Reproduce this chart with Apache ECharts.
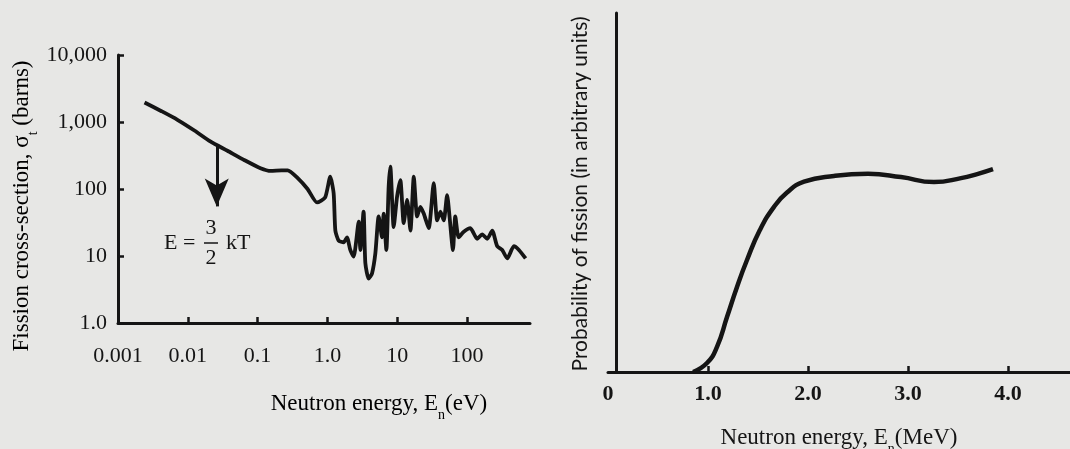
<!DOCTYPE html>
<html>
<head>
<meta charset="utf-8">
<script src="https://cdn.jsdelivr.net/npm/echarts@6/dist/echarts.min.js"></script>
<style>
html,body{margin:0;padding:0;background:#e7e7e5;}
#c{width:1070px;height:449px;}
</style>
</head>
<body>
<div id="c"></div>
<script>
// ---------- Left chart: fission cross-section vs neutron energy (log-log) ----------
const leftEnergy = [0.0024, 0.0042, 0.0072, 0.0126, 0.021, 0.037, 0.065, 0.11, 0.155, 0.22, 0.27, 0.37, 0.52, 0.71, 0.93, 1.10, 1.23, 1.30, 1.45, 1.71, 1.91, 2.13, 2.38, 2.81, 2.97, 3.30, 3.50, 3.90, 4.36, 4.87, 5.43, 6.07, 6.40, 7.0, 7.55, 7.98, 8.91, 9.97, 11.1, 12.4, 13.9, 15.5, 17.3, 19.3, 21.5, 24, 28.3, 33.4, 37.4, 41.7, 46.5, 52, 56, 63, 68, 76, 90, 112, 140, 165, 195, 230, 271, 320, 378, 470, 555, 692];
const leftSigma  = [1950, 1450, 1070, 740, 513, 372, 269, 204, 186, 190, 190, 148, 100, 63, 75, 153, 86, 24, 17, 16, 19, 12.3, 9.8, 32.5, 12.3, 46, 7.8, 4.6, 5.5, 11, 39, 19, 43, 12.3, 108, 215, 27, 77, 136, 31, 69, 24, 153, 39, 54, 43, 26, 122, 34, 46, 34, 81, 41, 12.3, 39, 19, 23, 26, 18, 21, 18, 24, 14, 12.3, 9.2, 14, 12.3, 9.2];
const leftXTicks = [0.001, 0.01, 0.1, 1, 10, 100];
const leftXTickLabels = ['0.001', '0.01', '0.1', '1.0', '10', '100'];
const leftYTicks = [1, 10, 100, 1000, 10000];
const leftYTickLabels = ['1.0', '10', '100', '1,000', '10,000'];
// E = 3/2 kT marker arrow (energy, from sigma, to sigma)
const arrowEnergy = 0.026;
const arrowFrom = 450;
const arrowTo = 55;

// ---------- Right chart: probability of fission vs neutron energy (MeV) ----------
const rightEnergy = [0.85, 0.99, 1.09, 1.19, 1.29, 1.39, 1.52, 1.66, 1.79, 1.96, 2.26, 2.60, 2.93, 3.26, 3.53, 3.70, 3.85];
const rightProb   = [0.0, 0.025, 0.07, 0.153, 0.237, 0.312, 0.396, 0.46, 0.50, 0.53, 0.546, 0.552, 0.543, 0.529, 0.54, 0.552, 0.565];
const rightXTicks = [0, 1, 2, 3, 4];
const rightXTickLabels = ['0', '1.0', '2.0', '3.0', '4.0'];

const INK = '#151515';
const SERIF = '"Liberation Serif", "DejaVu Serif", serif';

function fmt(vals, labels) {
  return function (v) {
    for (let i = 0; i < vals.length; i++) {
      if (Math.abs(v - vals[i]) <= Math.abs(vals[i]) * 1e-6 + 1e-9) return labels[i];
    }
    return '';
  };
}
function pairs(xs, ys) { return xs.map((x, i) => [x, ys[i]]); }

const chart = echarts.init(document.getElementById('c'));
const richMain = { fontSize: 23, fontFamily: SERIF, color: INK, lineHeight: 25, verticalAlign: 'top' };
const richSub = { fontSize: 14, fontFamily: SERIF, color: INK, lineHeight: 15, padding: [16, 0, 0, 0], verticalAlign: 'top' };

chart.setOption({
  backgroundColor: '#e7e7e5',
  animation: false,
  grid: [
    { left: 118, top: 55, width: 412, height: 268, outerBoundsMode: 'none', containLabel: false },
    { left: 608, top: 13, right: 0, height: 359, outerBoundsMode: 'none', containLabel: false }
  ],
  xAxis: [
    {
      type: 'log', logBase: 10, gridIndex: 0, min: 0.001, max: 800,
      axisLine: { lineStyle: { color: INK, width: 3 } },
      axisTick: { inside: true, length: 6, lineStyle: { color: INK, width: 2.5 }, customValues: leftXTicks.slice(1) },
      axisLabel: { customValues: leftXTicks, formatter: fmt(leftXTicks, leftXTickLabels), margin: 22, fontSize: 22, fontFamily: SERIF, color: INK },
      splitLine: { show: false }, minorTick: { show: false }
    },
    {
      type: 'value', gridIndex: 1, min: 0, max: 4.62,
      axisLine: { lineStyle: { color: INK, width: 3 } },
      axisTick: { inside: true, length: 6, lineStyle: { color: INK, width: 2.5 }, customValues: rightXTicks.slice(1) },
      axisLabel: { customValues: rightXTicks, formatter: fmt(rightXTicks, rightXTickLabels), margin: 11, fontSize: 22, fontWeight: 'bold', fontFamily: SERIF, color: INK },
      splitLine: { show: false },
      name: '{m|Neutron energy, E}{s|n}{m|(MeV)}', nameLocation: 'middle', nameGap: 54,
      nameTextStyle: { rich: { m: richMain, s: richSub } }
    }
  ],
  yAxis: [
    {
      type: 'log', logBase: 10, gridIndex: 0, min: 1, max: 10000,
      axisLine: { lineStyle: { color: INK, width: 3 } },
      axisTick: { inside: true, length: 6, lineStyle: { color: INK, width: 2.5 }, customValues: leftYTicks },
      axisLabel: { customValues: leftYTicks, formatter: fmt(leftYTicks, leftYTickLabels), margin: 11, fontSize: 22, fontFamily: SERIF, color: INK },
      splitLine: { show: false }
    },
    {
      type: 'value', gridIndex: 1, min: 0, max: 1, offset: -8,
      axisLine: { onZero: false, lineStyle: { color: INK, width: 3 } },
      axisTick: { show: false }, axisLabel: { show: false }, splitLine: { show: false }
    }
  ],
  series: [
    {
      type: 'line', xAxisIndex: 0, yAxisIndex: 0, data: pairs(leftEnergy, leftSigma),
      showSymbol: false, smooth: 0.2, lineStyle: { color: INK, width: 3.8 },
      markLine: {
        silent: true, symbol: ['none', 'arrow'], symbolSize: [18, 28],
        lineStyle: { color: INK, width: 3, type: 'solid' }, label: { show: false },
        data: [[{ coord: [arrowEnergy, arrowFrom] }, { coord: [arrowEnergy, arrowTo] }]]
      }
    },
    {
      type: 'line', xAxisIndex: 1, yAxisIndex: 1, data: pairs(rightEnergy, rightProb),
      showSymbol: false, smooth: 0.5, lineStyle: { color: INK, width: 4.5 }
    }
  ],
  graphic: [
    { type: 'text', x: 23, y: 206, rotation: Math.PI / 2,
      style: { text: '{m|Fission cross-section, σ}{s|t}{m| (barns)}', align: 'center', verticalAlign: 'middle',
        rich: { m: richMain, s: richSub } } },
    { type: 'text', x: 379, y: 405,
      style: { text: '{m|Neutron energy, E}{s|n}{m|(eV)}', align: 'center', verticalAlign: 'middle',
        rich: { m: richMain, s: richSub } } },
    { type: 'text', x: 580, y: 194, rotation: Math.PI / 2,
      style: { text: 'Probability of fission (in arbitrary units)', align: 'center', verticalAlign: 'middle',
        font: '21px Lato, "Open Sans", sans-serif', fill: INK } },
    { type: 'text', x: 164, y: 243,
      style: { text: 'E =', align: 'left', verticalAlign: 'middle', font: '22px ' + SERIF, fill: INK } },
    { type: 'text', x: 211, y: 228,
      style: { text: '3', align: 'center', verticalAlign: 'middle', font: '22px ' + SERIF, fill: INK } },
    { type: 'line', shape: { x1: 204, y1: 243, x2: 218, y2: 243 }, style: { stroke: INK, lineWidth: 1.5 } },
    { type: 'text', x: 211, y: 258,
      style: { text: '2', align: 'center', verticalAlign: 'middle', font: '22px ' + SERIF, fill: INK } },
    { type: 'text', x: 226, y: 243,
      style: { text: 'kT', align: 'left', verticalAlign: 'middle', font: '22px ' + SERIF, fill: INK } }
  ]
});
</script>
</body>
</html>
